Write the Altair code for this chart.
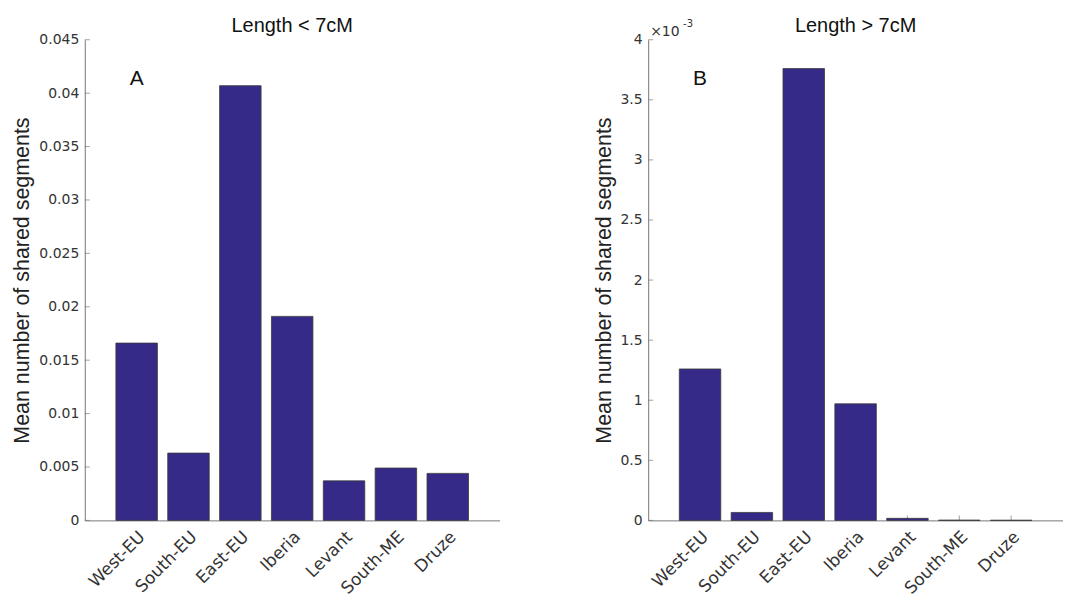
import altair as alt
import pandas as pd

groups = ["West-EU", "South-EU", "East-EU", "Iberia", "Levant", "South-ME", "Druze"]
short_vals = [0.0166, 0.0063, 0.0407, 0.0191, 0.0037, 0.0049, 0.0044]
long_vals = [0.00126, 0.000066, 0.00376, 0.00097, 0.000017, 0.000002, 0.000001]
short_ticks = [0, 0.005, 0.01, 0.015, 0.02, 0.025, 0.03, 0.035, 0.04, 0.045]
long_ticks = [0, 0.0005, 0.001, 0.0015, 0.002, 0.0025, 0.003, 0.0035, 0.004]

BAR = "#352A87"
AXC = "#777777"
LAB = "#333333"
H = 482


def panel(vals, ticks, ymax, title, letter, label_expr, w, exp_label):
    df = pd.DataFrame({"group": groups, "value": vals})
    tdf = pd.DataFrame({"value": ticks})
    xenc = alt.X(
        "group:N", sort=groups,
        scale=alt.Scale(paddingInner=0.2, paddingOuter=0.6),
        axis=alt.Axis(title=None, labelAngle=315, labelAlign="right", labelBaseline="top",
                      ticks=False, domainColor=AXC, labelFont="DejaVu Sans", labelFontSize=17,
                      labelColor=LAB, labelPadding=8, labelOffset=0),
    )
    yaxis = alt.Axis(values=ticks, labelExpr=label_expr, title="Mean number of shared segments",
                     titleFont="Liberation Sans", titleFontSize=21.5, titleFontWeight="normal",
                     titleColor="#222222", titlePadding=5, ticks=False, grid=False,
                     domainColor=AXC, labelFont="DejaVu Sans", labelFontSize=14,
                     labelColor=LAB, labelPadding=6)
    yenc = alt.Y("value:Q", scale=alt.Scale(domain=[0, ymax], nice=False, zero=True), axis=yaxis)

    xticks = alt.Chart(df).mark_tick(orient="vertical", color=AXC, size=5, thickness=1).encode(
        x=xenc, y=alt.value(H - 2.5))
    yticks = alt.Chart(tdf).mark_tick(orient="horizontal", color=AXC, size=5, thickness=1).encode(
        y=yenc, x=alt.value(2.5))
    bars = alt.Chart(df).mark_bar(color=BAR, stroke="#3a3a3a", strokeWidth=0.8).encode(x=xenc, y=yenc)
    one = alt.Data(values=[{}])
    letter_t = alt.Chart(one).mark_text(text=letter, font="Liberation Sans", fontSize=21,
                                         color="#111111", align="center", baseline="middle").encode(
        x=alt.value(52), y=alt.value(39))
    title_t = alt.Chart(one).mark_text(text=title, font="Liberation Sans", fontSize=20,
                                        color="#111111", align="center", baseline="alphabetic").encode(
        x=alt.value(w / 2), y=alt.value(-8))
    layers = [xticks, yticks, bars, letter_t, title_t]
    if exp_label:
        layers.append(alt.Chart(one).mark_text(text="\u00d710", font="DejaVu Sans", fontSize=14,
                                               color=LAB, align="left", baseline="alphabetic").encode(
            x=alt.value(2), y=alt.value(-4)))
        layers.append(alt.Chart(one).mark_text(text="-3", font="DejaVu Sans", fontSize=10,
                                               color=LAB, align="left", baseline="alphabetic").encode(
            x=alt.value(35), y=alt.value(-13)))
    return alt.layer(*layers).properties(width=w, height=H)


left = panel(short_vals, short_ticks, 0.045, "Length < 7cM", "A",
             "format(datum.value, '~g')", 416, False)
right = panel(long_vals, long_ticks, 0.004, "Length > 7cM", "B",
              "format(datum.value * 1000, '~g')", 416, True)

chart = alt.hconcat(left, right, spacing=93).properties(
    padding={"left": 3, "top": 7, "right": 0, "bottom": 0},
    background="white",
).configure_view(stroke=None)

chart.save("out.html", embed_options={"renderer": "svg", "actions": False})
